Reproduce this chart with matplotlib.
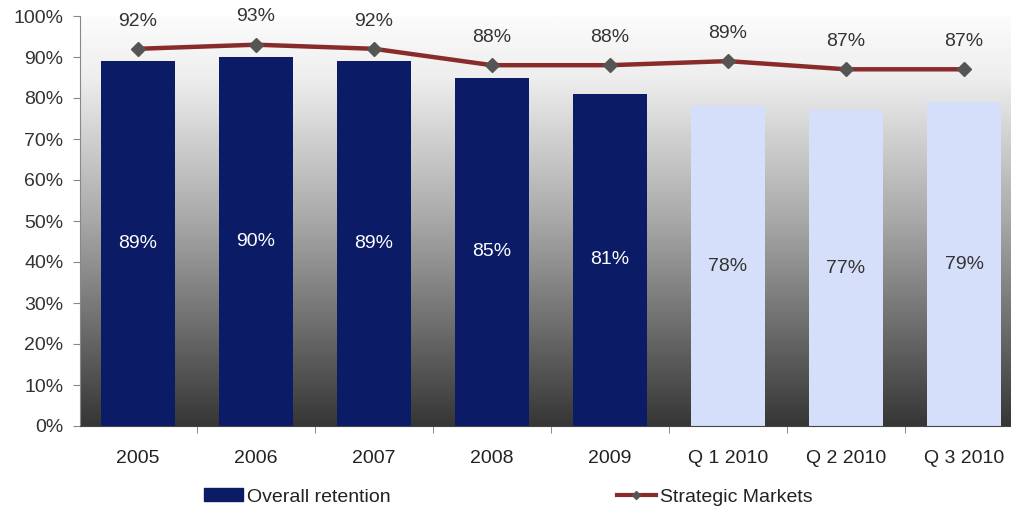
import matplotlib
matplotlib.use("Agg")
import matplotlib.pyplot as plt
import numpy as np
from matplotlib.colors import LinearSegmentedColormap
from matplotlib.patches import Patch
from matplotlib.lines import Line2D

categories = ["2005", "2006", "2007", "2008", "2009", "Q 1 2010", "Q 2 2010", "Q 3 2010"]
overall_retention = [89, 90, 89, 85, 81, 78, 77, 79]
strategic_markets = [92, 93, 92, 88, 88, 89, 87, 87]
y_ticks = [0, 10, 20, 30, 40, 50, 60, 70, 80, 90, 100]

plt.rcParams['font.family'] = ['Liberation Sans', 'DejaVu Sans']

W, H = 1011, 513
fig = plt.figure(figsize=(W / 100, H / 100), dpi=100)
fig.patch.set_facecolor('white')

ax_left, ax_right = 80, 1011
ax_bottom_px, ax_top_px = 426, 16
ax = fig.add_axes([ax_left / W, (H - ax_bottom_px) / H,
                   (ax_right - ax_left) / W, (ax_bottom_px - ax_top_px) / H])

x = np.arange(len(categories))
xmin = (ax_left - 138) / 118.0
xmax = (ax_right - 138) / 118.0
ax.set_xlim(xmin, xmax)
ax.set_ylim(0, 100)

# gradient background
cmap = LinearSegmentedColormap.from_list('bg', [(0, '#363636'), (0.5, '#a8a8a8'), (0.85, '#eeeeee'), (1.0, '#fcfcfc')])
grad = np.linspace(0, 1, 256).reshape(-1, 1)
ax.imshow(grad, extent=[xmin, xmax, 0, 100], origin='lower', aspect='auto', cmap=cmap, zorder=0)

dark = '#0b1b66'
light = '#d5dffa'
colors = [dark] * 5 + [light] * 3
bar_w = 74 / 118.0
ax.bar(x, overall_retention, width=bar_w, color=colors, zorder=2)

fs = 14
for i, v in enumerate(overall_retention):
    ax.text(x[i], v / 2, f"{v}%", ha='center', va='center', fontsize=fs,
            color='white' if i < 5 else '#333333', zorder=4)

ax.plot(x, strategic_markets, color='#8a2b2b', lw=3.2, marker='D', markersize=7,
        markerfacecolor='#555555', markeredgecolor='#555555', zorder=3)
for i, v in enumerate(strategic_markets):
    ax.annotate(f"{v}%", (x[i], v), xytext=(0, 20), textcoords='offset points',
                ha='center', va='center', fontsize=fs, color='#333333')

ax.set_yticks(y_ticks)
ax.set_yticklabels([f"{t}%" for t in y_ticks], fontsize=fs, color='#333333')
ax.set_xticks(x)
ax.set_xticklabels(categories, fontsize=fs, color='#222222')
ax.tick_params(axis='x', length=0, pad=17)
ax.set_xticks(np.arange(0.5, len(categories) - 0.5, 1), minor=True)
ax.tick_params(axis='x', which='minor', length=5, color='#777777', direction='out')
ax.tick_params(axis='y', length=5, color='#888888', pad=7)

for s in ['top', 'right']:
    ax.spines[s].set_visible(False)
ax.spines['left'].set_color('#888888')
ax.spines['bottom'].set_color('#444444')

handles = [Patch(facecolor=dark, edgecolor=dark),
           Line2D([0], [0], color='#8a2b2b', lw=3, marker='D', markersize=4,
                  markerfacecolor='#555555', markeredgecolor='#555555')]
leg1 = fig.legend([handles[0]], ["Overall retention"], loc='center left',
                  bbox_to_anchor=(204 / W, (H - 497) / H), frameon=False,
                  fontsize=fs, handlelength=2.0, handleheight=0.6, handletextpad=0.2,
                  borderpad=0, borderaxespad=0)
leg2 = fig.legend([handles[1]], ["Strategic Markets"], loc='center left',
                  bbox_to_anchor=(617 / W, (H - 497) / H), frameon=False,
                  fontsize=fs, handlelength=2.0, handletextpad=0.2,
                  borderpad=0, borderaxespad=0)
for lg in (leg1, leg2):
    for t in lg.get_texts():
        t.set_color('#222222')

fig.savefig('out.png', dpi=100)
